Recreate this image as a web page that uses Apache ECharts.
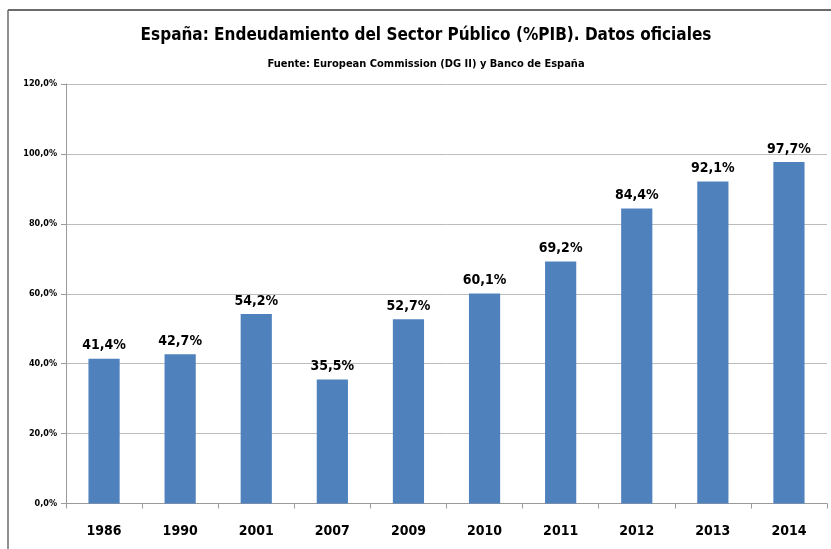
<!DOCTYPE html>
<html>
<head>
<meta charset="utf-8">
<script src="https://cdn.jsdelivr.net/npm/echarts@6/dist/echarts.min.js"></script>
<style>
  html, body { margin: 0; padding: 0; background: #fff; }
  #chart { width: 831px; height: 549px; }
</style>
</head>
<body>
<div id="chart"></div>
<script>
// Spanish public sector debt, % of GDP
const years = ['1986', '1990', '2001', '2007', '2009', '2010', '2011', '2012', '2013', '2014'];
const debtPct = [41.4, 42.7, 54.2, 35.5, 52.7, 60.1, 69.2, 84.4, 92.1, 97.7];
const yTicks = [0, 20, 40, 60, 80, 100, 120];

const FONT = '"Liberation Sans Narrow", "DejaVu Sans Condensed", "Liberation Sans", sans-serif';
const fmt = v => v.toFixed(1).replace('.', ',') + '%';

const chart = echarts.init(document.getElementById('chart'), null, { renderer: 'canvas' });
chart.setOption({
  animation: false,
  backgroundColor: '#ffffff',
  title: [
    {
      text: 'España: Endeudamiento del Sector Público (%PIB). Datos oficiales',
      left: 421, top: 22, textAlign: 'center',
      textStyle: { fontFamily: FONT, fontWeight: 'bold', fontSize: 17, color: '#000' }
    },
    {
      text: 'Fuente: European Commission (DG II) y Banco de España',
      left: 421, top: 54, textAlign: 'center',
      textStyle: { fontFamily: FONT, fontWeight: 'bold', fontSize: 11, color: '#000' }
    }
  ],
  graphic: [
    { type: 'line', shape: { x1: 8, y1: 10, x2: 831, y2: 10 }, style: { stroke: '#6b6b6b', lineWidth: 2 } },
    { type: 'line', shape: { x1: 8, y1: 10, x2: 8, y2: 549 }, style: { stroke: '#6b6b6b', lineWidth: 1.5 } }
  ],
  grid: { left: 66, right: 4, top: 84, bottom: 45.5, containLabel: false },
  xAxis: {
    type: 'category',
    data: years,
    boundaryGap: true,
    axisLine: { lineStyle: { color: '#9a9a9a', width: 1 } },
    axisTick: { show: true, alignWithLabel: false, length: 5, lineStyle: { color: '#9a9a9a' } },
    axisLabel: { margin: 21, fontFamily: FONT, fontWeight: 'bold', fontSize: 14, color: '#000' }
  },
  yAxis: {
    type: 'value',
    min: yTicks[0], max: yTicks[yTicks.length - 1], interval: 20,
    axisLine: { show: true, lineStyle: { color: '#9a9a9a', width: 1 } },
    axisTick: { show: true, length: 5, lineStyle: { color: '#9a9a9a' } },
    splitLine: { lineStyle: { color: '#bcbcbc', width: 1 } },
    axisLabel: {
      margin: 9, fontFamily: FONT, fontWeight: 'bold', fontSize: 9, color: '#000',
      formatter: v => fmt(v)
    }
  },
  series: [{
    type: 'bar',
    data: debtPct,
    barWidth: '41%',
    itemStyle: { color: '#4f81bd' },
    label: {
      show: true, position: 'top', distance: 6,
      fontFamily: FONT, fontWeight: 'bold', fontSize: 14, color: '#000',
      formatter: p => fmt(p.value)
    }
  }]
});
</script>
</body>
</html>
